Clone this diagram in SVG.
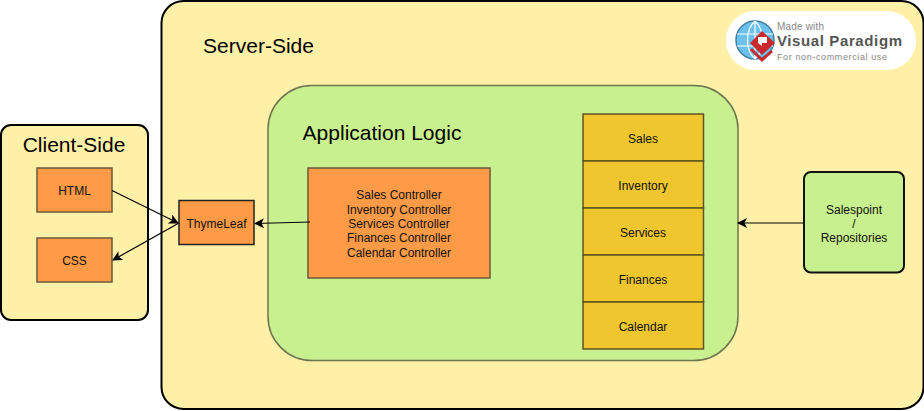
<svg xmlns="http://www.w3.org/2000/svg" width="924" height="411" viewBox="0 0 924 411">
<style>
text{font-family:"Liberation Sans",Arial,sans-serif;font-size:12px;fill:#111;text-anchor:middle}
.title{font-size:21px;fill:#000}
.box{fill:#ff9a47;stroke:#6a5a3a;stroke-width:1.5}
.stack{fill:#efc62e;stroke:#5f5520;stroke-width:1.5}
.c{fill:none;stroke:#000;stroke-width:1.2;marker-end:url(#a)}
.wm{text-anchor:start;fill:#888;font-size:9px}
</style>
<defs>
<marker id="a" viewBox="0 0 10 10" refX="9" refY="5" markerWidth="10" markerHeight="10" markerUnits="userSpaceOnUse" orient="auto"><path d="M0 0L10 5L0 10L2.500 5Z" fill="#000"/></marker>
</defs>
<rect width="924" height="411" fill="#fff"/>
<g id="server"><rect x="161.500" y="1" width="762" height="408" rx="22" fill="#fff0a8" stroke="#000" stroke-width="2"/><text class="title" x="258.500" y="53">Server-Side</text></g>
<g id="client"><rect x="1" y="125" width="147" height="195" rx="10" fill="#fff0a8" stroke="#000" stroke-width="2"/><text class="title" x="74" y="152">Client-Side</text></g>
<g id="applogic"><rect x="268" y="85.500" width="470" height="275" rx="44" fill="#c9f08f" stroke="#6f7550" stroke-width="1.500"/><text class="title" x="382" y="140">Application Logic</text></g>
<g id="html"><rect class="box" x="37" y="168" width="75" height="44"/><text x="74.500" y="195">HTML</text></g>
<g id="css"><rect class="box" x="37" y="238" width="75" height="44"/><text x="74.500" y="265">CSS</text></g>
<g id="thymeleaf"><rect x="179" y="200.500" width="75" height="44" fill="#ff9a47" stroke="#222" stroke-width="1.500"/><text x="216.500" y="228">ThymeLeaf</text></g>
<g id="controllers"><rect class="box" x="308" y="168" width="182" height="110"/>
<text x="399" y="199">Sales Controller</text><text x="399" y="214">Inventory Controller</text><text x="399" y="228">Services Controller</text><text x="399" y="242">Finances Controller</text><text x="399" y="257">Calendar Controller</text></g>
<g id="sales"><rect class="stack" x="583" y="114" width="120.500" height="47"/><text x="643" y="143">Sales</text></g>
<g id="inventory"><rect class="stack" x="583" y="161" width="120.500" height="47"/><text x="643" y="190">Inventory</text></g>
<g id="services"><rect class="stack" x="583" y="208" width="120.500" height="47"/><text x="643" y="237">Services</text></g>
<g id="finances"><rect class="stack" x="583" y="255" width="120.500" height="47"/><text x="643" y="284">Finances</text></g>
<g id="calendar"><rect class="stack" x="583" y="302" width="120.500" height="47"/><text x="643" y="331">Calendar</text></g>
<g id="salespoint"><rect x="804" y="172" width="100" height="100.500" rx="7" fill="#c9f08f" stroke="#111" stroke-width="2"/><text x="854" y="214">Salespoint</text><text x="854" y="228">/</text><text x="854" y="242">Repositories</text></g>
<g id="connectors">
<path class="c" d="M112 190.500L178 223"/>
<path class="c" d="M179 223L113 260"/>
<path class="c" d="M310 222L255 223.500"/>
<path class="c" d="M804 223L738 223"/>
</g>
<g id="watermark">
<rect x="726" y="11" width="190" height="59" rx="29" fill="#fff"/>
<circle cx="755" cy="40" r="19" fill="#6cc0ee" stroke="#3f7f9f" stroke-width="1.500"/>
<path d="M737 34H773M737 46H773M755 21V59M755 21C745 30 745 50 755 59M755 21C765 30 765 50 755 59" fill="none" stroke="#fff" stroke-width="1.200"/>
<path d="M750 43L762 31L775 43L762 55Z" fill="#c8282e"/>
<path d="M751 49L762 60L772 51" fill="none" stroke="#c8282e" stroke-width="3"/>
<path d="M758 43V37H767V43H762V46Z" fill="#fff"/>
<text class="wm" x="777" y="30" style="font-size:10px" textLength="47">Made with</text>
<text class="wm" x="777" y="46" style="font-size:15px;font-weight:bold;fill:#555" textLength="125">Visual Paradigm</text>
<text class="wm" x="777" y="60" textLength="110">For non-commercial use</text>
</g>
</svg>
